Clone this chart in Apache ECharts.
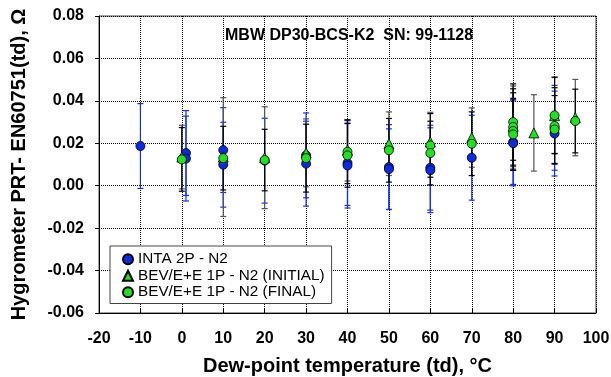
<!DOCTYPE html>
<html>
<head>
<meta charset="utf-8">
<script src="https://cdn.jsdelivr.net/npm/echarts@6/dist/echarts.min.js"></script>
<style>
  html, body { margin: 0; padding: 0; background: #fff; }
  #chart { width: 611px; height: 377px; }
</style>
</head>
<body>
<div id="chart"></div>
<script>
// INTA 2P - N2 : temperature, value, uncertainty
var intaT = [-10, 1, 1, 10, 10, 20, 30, 30, 40, 40, 50, 50, 60, 60, 70, 80, 80, 90, 90];
var intaV = [0.0187, 0.0154, 0.0128, 0.0168, 0.0099, 0.0118, 0.0143, 0.0104, 0.0107, 0.0095,
             0.0088, 0.0078, 0.0085, 0.0073, 0.0132, 0.0206, 0.0200, 0.0273, 0.0246];
var intaU = [0.020, 0.020, 0.020, 0.020, 0.020, 0.020, 0.020, 0.020, 0.020, 0.020,
             0.020, 0.019, 0.020, 0.020, 0.020, 0.020, 0.020, 0.020, 0.020];

// BEV/E+E 1P - N2 (INITIAL)
var initT = [0, 10, 20, 30, 40, 50, 60, 70, 80, 85, 90, 95];
var initV = [0.0135, 0.0135, 0.0132, 0.0155, 0.0167, 0.0198, 0.0206, 0.0227, 0.0280, 0.0249, 0.0330, 0.0321];
var initU = [0.015, 0.028, 0.024, 0.016, 0.0145, 0.015, 0.014, 0.014, 0.019, 0.018, 0.018, 0.018];

// BEV/E+E 1P - N2 (FINAL)
var finT = [0, 10, 20, 30, 40, 40, 50, 60, 60, 70, 80, 80, 80, 80, 90, 90, 90, 95];
var finV = [0.0124, 0.0130, 0.0121, 0.0130, 0.0160, 0.0143, 0.0167, 0.0190, 0.0154, 0.0198,
            0.0300, 0.0277, 0.0258, 0.0242, 0.0332, 0.0282, 0.0265, 0.0305];
var finU = [0.015, 0.015, 0.0145, 0.016, 0.015, 0.015, 0.015, 0.015, 0.015, 0.015,
            0.018, 0.018, 0.018, 0.017, 0.018, 0.018, 0.016, 0.015];

var xTicks = [-20, 100, 10];
var yTicks = [-0.06, 0.08, 0.02];

var seriesNames = ['INTA 2P - N2', 'BEV/E+E 1P - N2 (INITIAL)', 'BEV/E+E 1P - N2 (FINAL)'];
var FONT = "'Liberation Sans', Arial, Helvetica, sans-serif";

function pts(t, v) {
  var out = [];
  for (var i = 0; i < t.length; i++) out.push([t[i], v[i]]);
  return out;
}
function errs(t, v, u) {
  var out = [];
  for (var i = 0; i < t.length; i++) out.push([t[i], v[i], u[i]]);
  return out;
}

// vertical error bar with small caps
function errBar(params, api) {
  var x = api.value(0), y = api.value(1), u = api.value(2);
  var hi = api.coord([x, y + u]);
  var lo = api.coord([x, y - u]);
  var c = api.visual('color');
  var w = 3;
  var st = { stroke: c, lineWidth: 1.2 };
  return {
    type: 'group',
    children: [
      { type: 'line', shape: { x1: hi[0], y1: hi[1], x2: lo[0], y2: lo[1] }, style: st },
      { type: 'line', shape: { x1: hi[0] - w, y1: hi[1], x2: hi[0] + w, y2: hi[1] }, style: st },
      { type: 'line', shape: { x1: lo[0] - w, y1: lo[1], x2: lo[0] + w, y2: lo[1] }, style: st }
    ]
  };
}

var myChart = echarts.init(document.getElementById('chart'));

var option = {
  animation: false,
  textStyle: { fontFamily: FONT },
  title: {
    text: 'MBW DP30-BCS-K2  SN: 99-1128',
    left: 220,
    top: 23,
    textStyle: { fontFamily: FONT, fontSize: 16, fontWeight: 'bold', color: '#000' }
  },
  legend: {
    data: seriesNames,
    orient: 'vertical',
    left: 110,
    top: 246,
    itemWidth: 10,
    itemHeight: 10,
    itemGap: 0,
    padding: [5, 7, 3, 12],
    backgroundColor: '#fff',
    borderColor: '#444',
    borderWidth: 1,
    textStyle: { fontFamily: FONT, fontSize: 15.3, lineHeight: 16.5, color: '#000' }
  },
  grid: {
    left: 99,
    right: 15,
    top: 16,
    bottom: 64,
    outerBoundsMode: 'none',
    show: true,
    borderColor: '#444',
    borderWidth: 1,
    backgroundColor: '#fff'
  },
  xAxis: {
    type: 'value',
    min: xTicks[0],
    max: xTicks[1],
    interval: xTicks[2],
    name: 'Dew-point temperature (td), °C',
    nameLocation: 'middle',
    nameGap: 43,
    nameTextStyle: { fontFamily: FONT, fontSize: 20, fontWeight: 'bold', color: '#000' },
    axisLine: { onZero: false, lineStyle: { color: '#000', width: 1 } },
    axisTick: { inside: true, length: 4, lineStyle: { color: '#000' } },
    axisLabel: { fontFamily: FONT, fontSize: 16, fontWeight: 'bold', color: '#000', margin: 18 },
    splitLine: { show: true, lineStyle: { color: '#000', type: 'dotted', width: 1 } }
  },
  yAxis: {
    type: 'value',
    min: yTicks[0],
    max: yTicks[1],
    interval: yTicks[2],
    name: 'Hygrometer PRT- EN60751(td), Ω',
    nameLocation: 'middle',
    nameGap: 70,
    nameTextStyle: { fontFamily: FONT, fontSize: 20, fontWeight: 'bold', color: '#000' },
    axisLine: { show: true, onZero: false, lineStyle: { color: '#000', width: 1 } },
    axisTick: { show: true, inside: false, length: 4, lineStyle: { color: '#000' } },
    axisLabel: {
      fontFamily: FONT, fontSize: 16, fontWeight: 'bold', color: '#000', margin: 15,
      formatter: function (v) { return v.toFixed(2); }
    },
    splitLine: { show: true, lineStyle: { color: '#000', type: 'dotted', width: 1 } }
  },
  series: [
    {
      name: 'inta-err', type: 'custom', renderItem: errBar, z: 1,
      itemStyle: { color: '#1030f0' }, encode: { x: 0, y: 1 },
      data: errs(intaT, intaV, intaU)
    },
    {
      name: 'init-err', type: 'custom', renderItem: errBar, z: 1,
      itemStyle: { color: '#555' }, encode: { x: 0, y: 1 },
      data: errs(initT, initV, initU)
    },
    {
      name: 'fin-err', type: 'custom', renderItem: errBar, z: 1,
      itemStyle: { color: '#000' }, encode: { x: 0, y: 1 },
      data: errs(finT, finV, finU)
    },
    {
      name: seriesNames[0], type: 'scatter', symbol: 'circle', symbolSize: 9, z: 3,
      itemStyle: { color: '#0a2be0', borderColor: '#000', borderWidth: 0.8, opacity: 1 },
      data: pts(intaT, intaV)
    },
    {
      name: seriesNames[1], type: 'scatter', symbol: 'triangle', symbolSize: 10, z: 4,
      itemStyle: { color: '#22e022', borderColor: '#000', borderWidth: 0.8, opacity: 1 },
      data: pts(initT, initV)
    },
    {
      name: seriesNames[2], type: 'scatter', symbol: 'circle', symbolSize: 9, z: 5,
      itemStyle: { color: '#22e022', borderColor: '#000', borderWidth: 0.8, opacity: 1 },
      data: pts(finT, finV)
    }
  ]
};
myChart.setOption(option);
</script>
</body>
</html>
